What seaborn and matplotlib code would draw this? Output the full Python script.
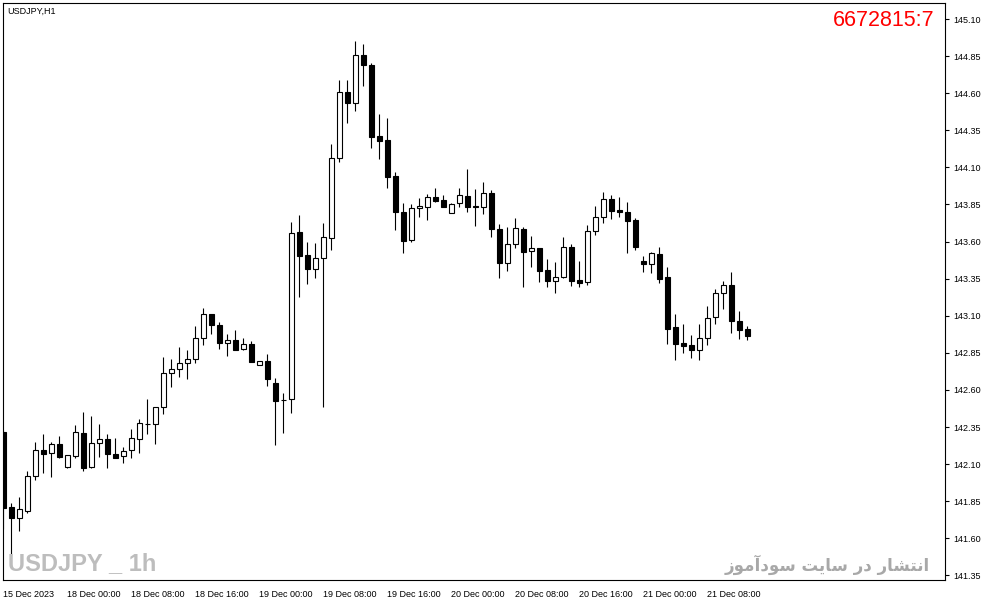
import numpy as np
import pandas as pd
import seaborn as sns
import matplotlib
matplotlib.use("Agg")
import matplotlib.pyplot as plt

# USDJPY H1 candles, 15 Dec 16:00 .. 21 Dec 13:00
opens = [142.315, 141.809, 141.735, 141.786, 142.022, 142.195, 142.173, 142.236, 142.083, 142.157,
         142.308, 142.079, 142.241, 142.270, 142.169, 142.155, 142.193, 142.268, 142.370, 142.369,
         142.483, 142.712, 142.739, 142.780, 142.807, 142.948, 143.110, 143.038, 142.915, 142.937,
         142.874, 142.910, 142.770, 142.793, 142.647, 142.533, 142.537, 143.663, 143.510, 143.413,
         143.487, 143.622, 144.161, 144.606, 144.532, 144.855, 144.792, 144.312, 144.285, 144.042,
         143.797, 143.611, 143.824, 143.835, 143.898, 143.878, 143.791, 143.858, 143.907, 143.838,
         143.835, 143.927, 143.683, 143.458, 143.582, 143.683, 143.535, 143.555, 143.409, 143.336,
         143.359, 143.561, 143.341, 143.330, 143.673, 143.764, 143.887, 143.813, 143.797, 143.745,
         143.469, 143.447, 143.516, 143.361, 143.024, 142.917, 142.903, 142.871, 142.948, 143.090,
         143.252, 143.307, 143.065, 143.011]
highs = [142.330, 141.836, 141.877, 142.056, 142.249, 142.303, 142.247, 142.290, 142.162, 142.364,
         142.450, 142.427, 142.371, 142.303, 142.274, 142.218, 142.337, 142.404, 142.539, 142.485,
         142.820, 142.809, 142.888, 142.869, 143.031, 143.150, 143.112, 143.056, 142.977, 143.004,
         142.948, 142.930, 142.795, 142.842, 142.679, 142.578, 143.730, 143.779, 143.595, 143.588,
         143.727, 144.258, 144.689, 144.689, 144.952, 144.930, 144.801, 144.460, 144.431, 144.067,
         143.862, 143.853, 143.896, 143.921, 143.959, 143.914, 143.858, 143.959, 144.089, 143.954,
         144.002, 143.948, 143.717, 143.696, 143.757, 143.700, 143.638, 143.557, 143.481, 143.464,
         143.629, 143.584, 143.469, 143.712, 143.840, 143.932, 143.911, 143.898, 143.867, 143.757,
         143.503, 143.532, 143.566, 143.427, 143.112, 143.045, 142.970, 143.045, 143.166, 143.283,
         143.334, 143.395, 143.132, 143.033]
lows = [141.661, 141.488, 141.652, 141.773, 141.993, 142.042, 142.016, 142.144, 142.076, 142.140,
        142.056, 142.072, 142.150, 142.072, 142.140, 142.110, 142.144, 142.177, 142.301, 142.234,
        142.436, 142.622, 142.689, 142.672, 142.784, 142.903, 142.975, 142.878, 142.831, 142.869,
        142.869, 142.790, 142.768, 142.629, 142.229, 142.308, 142.443, 143.229, 143.312, 143.357,
        142.483, 143.543, 144.138, 144.397, 144.480, 144.651, 144.229, 144.155, 143.959, 143.675,
        143.525, 143.599, 143.768, 143.745, 143.869, 143.831, 143.791, 143.835, 143.801, 143.707,
        143.784, 143.628, 143.357, 143.404, 143.555, 143.296, 143.431, 143.330, 143.292, 143.252,
        143.355, 143.301, 143.296, 143.307, 143.644, 143.727, 143.754, 143.768, 143.525, 143.543,
        143.397, 143.390, 143.319, 142.910, 142.800, 142.851, 142.818, 142.804, 142.905, 143.045,
        143.148, 142.986, 142.946, 142.937]
closes = [141.807, 141.735, 141.798, 142.022, 142.193, 142.166, 142.236, 142.150, 142.160, 142.315,
          142.076, 142.241, 142.270, 142.166, 142.144, 142.191, 142.274, 142.375, 142.370, 142.483,
          142.712, 142.739, 142.780, 142.807, 142.952, 143.110, 143.036, 142.915, 142.937, 142.869,
          142.910, 142.790, 142.793, 142.676, 142.528, 142.533, 143.656, 143.505, 143.413, 143.487,
          143.629, 144.161, 144.606, 144.532, 144.855, 144.788, 144.307, 144.280, 144.037, 143.797,
          143.606, 143.824, 143.838, 143.898, 143.876, 143.835, 143.853, 143.914, 143.831, 143.831,
          143.925, 143.683, 143.458, 143.582, 143.690, 143.532, 143.555, 143.404, 143.336, 143.359,
          143.561, 143.336, 143.323, 143.673, 143.764, 143.887, 143.808, 143.796, 143.741, 143.566,
          143.447, 143.521, 143.350, 143.013, 142.912, 142.898, 142.871, 142.948, 143.085, 143.252,
          143.305, 143.067, 143.006, 142.966]

time_ticks = [0, 8, 16, 24, 32, 40, 48, 56, 64, 72, 80, 88]
time_labels = ["15 Dec 2023", "18 Dec 00:00", "18 Dec 08:00", "18 Dec 16:00", "19 Dec 00:00",
               "19 Dec 08:00", "19 Dec 16:00", "20 Dec 00:00", "20 Dec 08:00", "20 Dec 16:00",
               "21 Dec 00:00", "21 Dec 08:00"]
price_ticks = [145.10, 144.85, 144.60, 144.35, 144.10, 143.85, 143.60, 143.35,
               143.10, 142.85, 142.60, 142.35, 142.10, 141.85, 141.60, 141.35]

sns.set_theme(style="white")
plt.rcParams['font.family'] = ['Liberation Sans', 'DejaVu Sans']

df = pd.DataFrame({'open': opens, 'high': highs, 'low': lows, 'close': closes})
df['idx'] = np.arange(len(df))
df['up'] = df.close > df.open
df['bottom'] = df[['open', 'close']].min(axis=1)
df['height'] = (df.close - df.open).abs()

W, H = 987, 605
fig = plt.figure(figsize=(W / 100, H / 100), dpi=100)
ax = fig.add_axes([3 / W, 25 / H, 942 / W, 577 / H])

# wicks
ax.vlines(df.idx, df.low, df.high, color='black', linewidth=0.8, zorder=1)
# bodies
face = np.where(df.up, 'white', 'black')
ax.bar(df.idx, df.height, bottom=df.bottom, width=0.55, color=face,
       edgecolor='black', linewidth=0.8, zorder=2)

ax.set_xlim(-0.04, 117.7)
ax.set_ylim(141.319, 145.208)

ax.yaxis.tick_right()
ax.set_yticks(price_ticks)
ax.set_yticklabels([f"{p:.2f}" for p in price_ticks])
ax.set_xticks(time_ticks)
ax.set_xticklabels(time_labels, ha='left')
ax.tick_params(axis='both', direction='out', length=3, width=0.8, color='black',
               labelsize=6.5, labelcolor='black', pad=2)
ax.tick_params(axis='x', pad=4)
ax.tick_params(axis='y', pad=3)
for s in ax.spines.values():
    s.set_color('black')
    s.set_linewidth(0.8)
ax.grid(False)
ax.set_xlabel("")
ax.set_ylabel("")

# overlay texts
fig.text(7 / W, 1 - 11 / H, "USDJPY,H1", fontsize=6.5, color='black', va='center', ha='left')
fig.text(935 / W, 1 - 20 / H, "6672815:7", fontsize=15.5, color='#ff0000', va='center', ha='right')
fig.text(8 / W, 1 - 564 / H, "USDJPY _ 1h", fontsize=17, fontweight='bold', color='#bdbdbd',
         va='center', ha='left', family=['Liberation Sans Narrow', 'Liberation Sans', 'DejaVu Sans'])
# Persian text in visual order using presentation forms: "انتشار در سایت سودآموز"
fa_text = ("\uFEAF\uFEEE\uFEE3\uFE81\uFEA9\uFEEE\uFEB3 "
           "\uFE96\uFEF3\uFE8E\uFEB3 "
           "\uFEAD\uFEA9 "
           "\uFEAD\uFE8E\uFEB8\uFE98\uFEE7\uFE8D")
fig.text(930 / W, 1 - 565 / H, fa_text, fontsize=12, fontweight='bold', color='#a8a8a8',
         va='center', ha='right', family=['DejaVu Sans'])

fig.savefig("out.png", dpi=100, facecolor='white')
